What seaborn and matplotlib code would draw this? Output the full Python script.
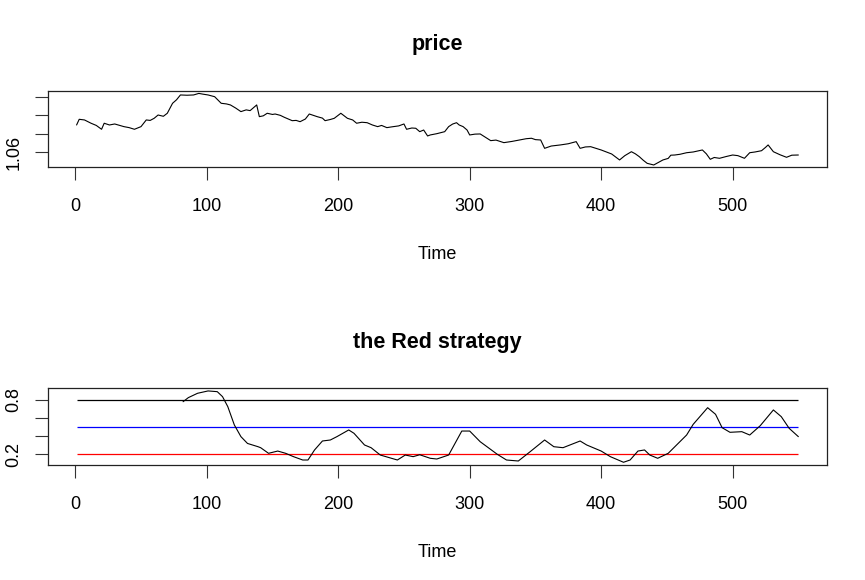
import matplotlib
matplotlib.use("Agg")
import matplotlib.pyplot as plt
import seaborn as sns

# price series
price_time = [1, 3, 7, 12, 16, 20, 22, 26, 30, 34, 37, 41, 45, 50, 54, 57, 60,
              63, 67, 70, 74, 77, 80, 85, 90, 94, 97, 101, 104, 106, 111, 115,
              118, 122, 126, 130, 133, 138, 140, 143, 146, 150, 152, 156, 159,
              165, 168, 171, 175, 178, 181, 184, 188, 190, 194, 197, 202, 205,
              207, 211, 214, 218, 222, 226, 230, 233, 237, 241, 246, 250, 252,
              256, 259, 262, 265, 268, 270, 275, 281, 284, 287, 290, 292, 295,
              298, 300, 304, 308, 312, 316, 320, 326, 332, 338, 343, 347, 350,
              354, 357, 362, 369, 375, 381, 384, 388, 392, 396, 400, 404, 408,
              411, 414, 418, 423, 426, 429, 432, 435, 440, 444, 447, 451, 453,
              456, 460, 465, 470, 477, 480, 483, 486, 490, 495, 500, 504, 509,
              513, 517, 522, 525, 527, 529, 531, 536, 541, 545, 550]
price = [1.0895, 1.0957, 1.0950, 1.0914, 1.0890, 1.0848, 1.0914, 1.0895,
         1.0906, 1.0890, 1.0877, 1.0866, 1.0848, 1.0877, 1.0950, 1.0945,
         1.0968, 1.1004, 1.0990, 1.1023, 1.1132, 1.1170, 1.1223, 1.1220,
         1.1223, 1.1240, 1.1232, 1.1223, 1.1212, 1.1204, 1.1132, 1.1125,
         1.1114, 1.1080, 1.1041, 1.1060, 1.1052, 1.1114, 1.0986, 1.0995,
         1.1023, 1.1010, 1.1015, 1.1000, 1.0979, 1.0942, 1.0945, 1.0931,
         1.0960, 1.1015, 1.1000, 1.0986, 1.0970, 1.0942, 1.0955, 1.0968,
         1.1023, 1.0990, 1.0968, 1.0950, 1.0914, 1.0925, 1.0920, 1.0895,
         1.0877, 1.0890, 1.0866, 1.0875, 1.0885, 1.0906, 1.0848, 1.0862,
         1.0859, 1.0822, 1.0840, 1.0775, 1.0786, 1.0800, 1.0822, 1.0877,
         1.0905, 1.0920, 1.0895, 1.0877, 1.0840, 1.0786, 1.0795, 1.0797,
         1.0760, 1.0724, 1.0730, 1.0702, 1.0715, 1.0731, 1.0745, 1.0750,
         1.0735, 1.0731, 1.0640, 1.0665, 1.0677, 1.0690, 1.0713, 1.0640,
         1.0655, 1.0658, 1.0640, 1.0622, 1.0600, 1.0578, 1.0545, 1.0513,
         1.0560, 1.0603, 1.0580, 1.0549, 1.0510, 1.0476, 1.0458, 1.0490,
         1.0513, 1.0530, 1.0565, 1.0567, 1.0575, 1.0592, 1.0600, 1.0622,
         1.0580, 1.0520, 1.0540, 1.0531, 1.0550, 1.0567, 1.0560, 1.0531,
         1.0592, 1.0600, 1.0614, 1.0650, 1.0677, 1.0640, 1.0603, 1.0570,
         1.0542, 1.0565, 1.0567]

# strategy indicator
strat_time = [82, 86, 93, 101, 108, 112, 116, 121, 126, 131, 139, 141, 147,
              154, 160, 166, 173, 177, 182, 188, 194, 199, 208, 212, 220, 225,
              232, 245, 251, 257, 262, 270, 275, 284, 294, 300, 308, 321, 328,
              337, 346, 357, 364, 371, 384, 389, 400, 407, 417, 422, 428, 433,
              437, 443, 451, 465, 470, 481, 487, 492, 498, 507, 513, 521, 531,
              537, 543, 550]
strategy = [0.781, 0.826, 0.874, 0.900, 0.892, 0.837, 0.727, 0.524, 0.395,
            0.320, 0.284, 0.273, 0.211, 0.236, 0.211, 0.174, 0.137, 0.137,
            0.248, 0.347, 0.358, 0.395, 0.469, 0.432, 0.303, 0.273, 0.192,
            0.137, 0.192, 0.174, 0.195, 0.156, 0.148, 0.192, 0.457, 0.457,
            0.339, 0.200, 0.137, 0.126, 0.229, 0.358, 0.284, 0.273, 0.347,
            0.303, 0.236, 0.174, 0.112, 0.137, 0.236, 0.248, 0.192, 0.156,
            0.211, 0.413, 0.531, 0.715, 0.642, 0.494, 0.443, 0.450, 0.413,
            0.516, 0.690, 0.616, 0.487, 0.395]

# threshold lines
levels = [0.8, 0.5, 0.2]
level_colors = ["black", "blue", "red"]
level_span = [1, 550]

x_ticks = [0, 100, 200, 300, 400, 500]
price_ticks = [1.06, 1.08, 1.10, 1.12]
price_labels = ["1.06", "", "", ""]
strat_ticks = [0.2, 0.4, 0.6, 0.8]
strat_labels = ["0.2", "", "", "0.8"]

sns.set_style("white")
plt.rcParams["font.family"] = ["Liberation Sans", "DejaVu Sans"]
plt.rcParams["text.color"] = "black"
plt.rcParams["axes.labelcolor"] = "black"
plt.rcParams["xtick.color"] = "black"
plt.rcParams["ytick.color"] = "black"


def r_style(ax, title, yticks, ylabels, ylim):
    """Dress an axes like a base R ts plot."""
    ax.set_xlim(-21, 572)
    ax.set_ylim(*ylim)
    ax.set_xticks(x_ticks)
    ax.set_xticklabels([str(t) for t in x_ticks])
    ax.set_yticks(yticks)
    ax.set_yticklabels(ylabels, rotation=90, va="center")
    ax.tick_params(axis="both", direction="out", length=9.3, width=0.8,
                   color="#333333", labelcolor="black", labelsize=13,
                   left=True, bottom=True)
    ax.tick_params(axis="x", pad=13)
    ax.tick_params(axis="y", pad=9)
    for sp in ax.spines.values():
        sp.set_visible(True)
        sp.set_color("#222222")
        sp.set_linewidth(0.9)
    ax.set_title(title, fontsize=15.5, fontweight="bold", pad=29,
                 color="black")
    ax.set_xlabel("Time", fontsize=13, labelpad=22, color="black")
    ax.set_ylabel("")


fig = plt.figure(figsize=(8.65, 5.8), dpi=100)
ax1 = fig.add_axes([0.0551, 0.7116, 0.9013, 0.1321])
ax2 = fig.add_axes([0.0551, 0.1983, 0.9013, 0.1322])

sns.lineplot(x=price_time, y=price, ax=ax1, color="black", linewidth=0.8)
r_style(ax1, "price", price_ticks, price_labels, (1.0433, 1.127))

for lvl, col in zip(levels, level_colors):
    ax2.hlines(lvl, level_span[0], level_span[1], colors=col, linewidth=0.9)
sns.lineplot(x=strat_time, y=strategy, ax=ax2, color="black", linewidth=0.8)
r_style(ax2, "the Red strategy", strat_ticks, strat_labels, (0.082, 0.929))

fig.savefig("out.png", dpi=100)
